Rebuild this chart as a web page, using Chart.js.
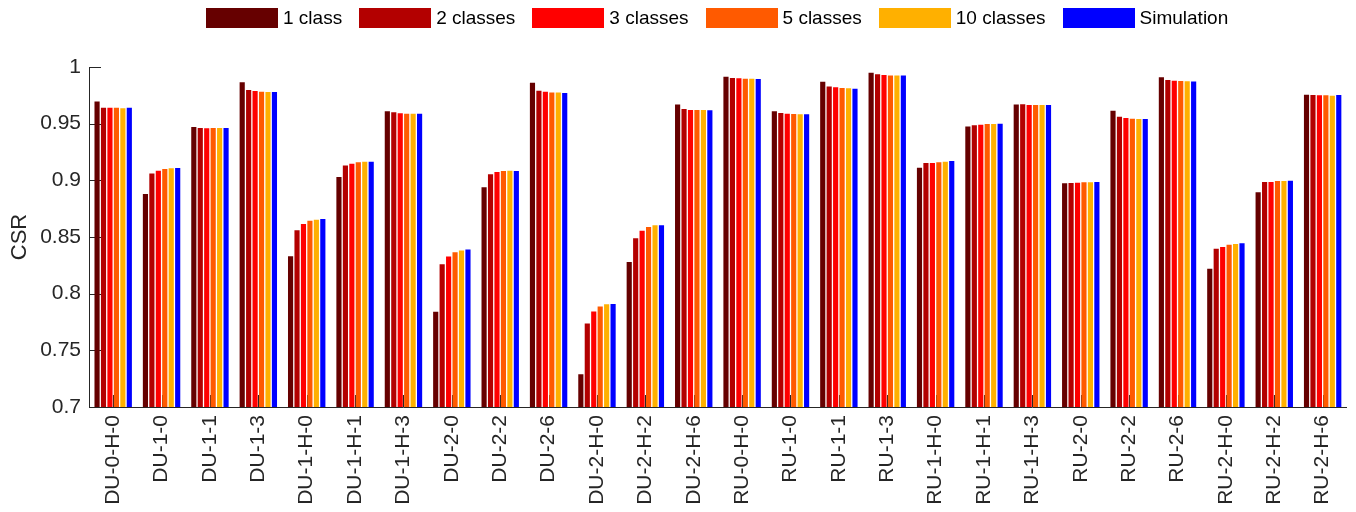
<!DOCTYPE html>
<html>
<head>
<meta charset="utf-8">
<script src="https://cdn.jsdelivr.net/npm/chart.js@4/dist/chart.umd.min.js"></script>
<style>
  html, body { margin: 0; padding: 0; background: #ffffff; }
  #wrap { position: relative; width: 1356px; height: 512px; overflow: hidden; }
  #legend { position: absolute; left: 206px; top: 7px; display: flex; align-items: center;
            font-family: "Liberation Sans", Arial, Helvetica, sans-serif; font-size: 19px; color: #000; white-space: nowrap; }
  .item { display: flex; align-items: center; margin-right: 17px; }
  .box { width: 72px; height: 20px; margin-right: 5px; }
  canvas { position: absolute; left: 0; top: 0; }
</style>
</head>
<body>
<div id="wrap">
  <canvas id="c" width="1356" height="512"></canvas>
  <div id="legend"></div>
</div>
<script>
const categories = ["DU-0-H-0","DU-1-0","DU-1-1","DU-1-3","DU-1-H-0","DU-1-H-1","DU-1-H-3","DU-2-0","DU-2-2","DU-2-6","DU-2-H-0","DU-2-H-2","DU-2-H-6",
                    "RU-0-H-0","RU-1-0","RU-1-1","RU-1-3","RU-1-H-0","RU-1-H-1","RU-1-H-3","RU-2-0","RU-2-2","RU-2-6","RU-2-H-0","RU-2-H-2","RU-2-H-6"];

const class1 = [0.9695,0.888,0.947,0.9865,0.833,0.903,0.961,0.784,0.894,0.986,0.729,0.828,0.967,
                0.9915,0.961,0.987,0.995,0.911,0.9475,0.967,0.8975,0.9615,0.991,0.822,0.8895,0.9755];
const class2 = [0.964,0.906,0.9462,0.9797,0.856,0.913,0.960,0.826,0.9053,0.979,0.7736,0.849,0.963,
                0.9903,0.9594,0.9829,0.9935,0.9153,0.9485,0.9671,0.8976,0.9562,0.9885,0.8397,0.8985,0.9753];
const class3 = [0.964,0.9085,0.9459,0.9788,0.8615,0.9147,0.9591,0.8327,0.9074,0.9782,0.7842,0.8556,0.962,
                0.990,0.9588,0.9821,0.9929,0.9153,0.9491,0.9665,0.8979,0.955,0.9879,0.8412,0.8985,0.975];
const class5 = [0.964,0.910,0.9462,0.9782,0.8644,0.9159,0.9588,0.8365,0.9082,0.9776,0.7886,0.8588,0.962,
                0.9897,0.9585,0.9815,0.9926,0.9159,0.9497,0.9665,0.8982,0.9544,0.9876,0.8432,0.8994,0.975];
const class10 = [0.9635,0.9106,0.9462,0.9779,0.8653,0.9165,0.9588,0.838,0.9085,0.9774,0.7906,0.8603,0.962,
                 0.9897,0.9582,0.9812,0.9924,0.9165,0.9497,0.9665,0.8982,0.9541,0.9874,0.8438,0.8994,0.9747];
const simulation = [0.9641,0.9109,0.9462,0.9779,0.8659,0.9165,0.9588,0.8389,0.9082,0.9771,0.7909,0.8603,0.9618,
                    0.9894,0.9582,0.9809,0.9926,0.9171,0.950,0.9665,0.8985,0.9541,0.9871,0.8444,0.8997,0.9753];

const seriesNames = ["1 class","2 classes","3 classes","5 classes","10 classes","Simulation"];
const seriesColors = ["#660000","#B30000","#FF0000","#FF5A00","#FFB000","#0000FF"];
const yTickValues = [0.7,0.75,0.8,0.85,0.9,0.95,1];

const FONT = '"Liberation Sans", Arial, Helvetica, sans-serif';
const AXIS = '#262626';

const seriesData = [class1, class2, class3, class5, class10, simulation];
const datasets = seriesData.map((d, i) => ({
  label: seriesNames[i],
  data: d,
  backgroundColor: seriesColors[i],
  borderWidth: 0,
  categoryPercentage: 0.8,
  barPercentage: 0.8
}));

// HTML legend built from the datasets
const legendEl = document.getElementById('legend');
datasets.forEach(ds => {
  const it = document.createElement('div'); it.className = 'item';
  const b = document.createElement('div'); b.className = 'box'; b.style.background = ds.backgroundColor;
  const t = document.createElement('span'); t.textContent = ds.label;
  it.appendChild(b); it.appendChild(t); legendEl.appendChild(it);
});

const inwardTicks = {
  id: 'inwardTicks',
  beforeDatasetsDraw(chart) {
    const { ctx, chartArea, scales } = chart;
    const x = scales.x, y = scales.y;
    ctx.save();
    ctx.strokeStyle = AXIS;
    ctx.lineWidth = 1;
    ctx.beginPath();
    y.ticks.forEach((t, i) => {
      const py = Math.round(y.getPixelForTick(i)) + 0.5;
      ctx.moveTo(chartArea.left, py); ctx.lineTo(chartArea.left + 12, py);
    });
    x.ticks.forEach((t, i) => {
      const px = Math.round(x.getPixelForTick(i)) + 0.5;
      ctx.moveTo(px, chartArea.bottom); ctx.lineTo(px, chartArea.bottom - 12);
    });
    ctx.stroke();
    ctx.restore();
  }
};

new Chart(document.getElementById('c'), {
  type: 'bar',
  data: { labels: categories, datasets },
  options: {
    responsive: false,
    animation: false,
    devicePixelRatio: 1,
    layout: { padding: { top: 67, right: 8, left: 0, bottom: 0 } },
    plugins: { legend: { display: false }, tooltip: { enabled: false } },
    scales: {
      x: {
        grid: { display: false, drawTicks: false },
        border: { display: true, color: AXIS, width: 1 },
        ticks: { autoSkip: false, maxRotation: 90, minRotation: 90, padding: 8,
                 color: AXIS, font: { family: FONT, size: 21 } },
        afterFit(s) { s.height = 105; }
      },
      y: {
        min: 0.7, max: 1,
        grid: { drawOnChartArea: false, drawTicks: false },
        border: { display: true, color: AXIS, width: 1 },
        afterBuildTicks(s) { s.ticks = yTickValues.map(v => ({ value: v })); },
        ticks: { padding: 8, color: AXIS, font: { family: FONT, size: 21 },
                 callback: v => String(Number(Number(v).toFixed(2))) },
        title: { display: true, text: 'CSR', color: AXIS, font: { family: FONT, size: 22 },
                 padding: { top: 7, bottom: 0 } },
        afterFit(s) { s.width = 89; }
      }
    }
  },
  plugins: [inwardTicks]
});
</script>
</body>
</html>
